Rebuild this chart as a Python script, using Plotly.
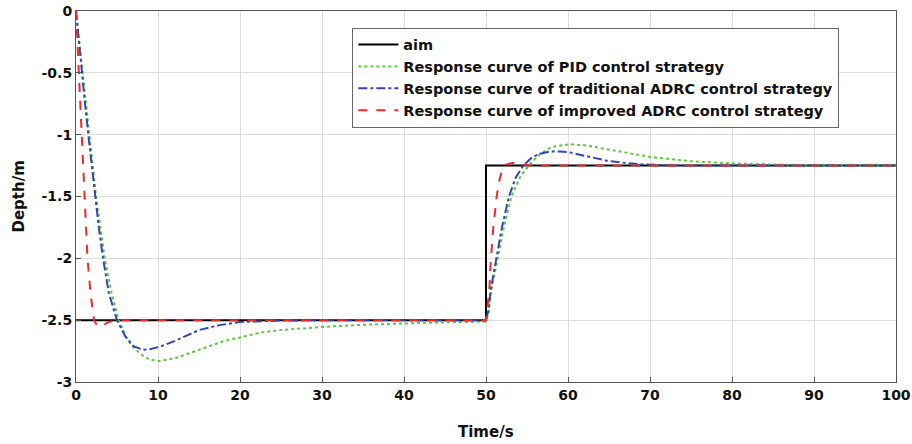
import plotly.graph_objects as go

# ---- data ----
aim_t = [0, 50, 50, 100]
aim_y = [-2.5, -2.5, -1.25, -1.25]

pid_t = [0, 0.4, 0.8, 1.2, 1.6, 2.0, 2.45, 3.0, 3.5, 4.3, 5.2, 6.3, 7.0, 8.0, 9.0, 10.2, 12, 15, 18, 20,
         22.5, 25, 30, 35, 40, 45, 50,
         50.3, 50.65, 51.0, 51.5, 52.2, 53.1, 54.1, 55.2, 56.5, 58, 60.2, 62, 65, 70, 75, 80, 85, 90, 100]
pid_y = [0, -0.25, -0.5, -0.75, -1.0, -1.25, -1.5, -1.76, -2.0, -2.27, -2.5, -2.66, -2.72, -2.78, -2.82, -2.83,
         -2.81, -2.74, -2.67, -2.64, -2.60, -2.58, -2.555, -2.537, -2.526, -2.517, -2.512,
         -2.45, -2.256, -2.14, -2.0, -1.744, -1.5, -1.35, -1.25, -1.16, -1.10, -1.077, -1.085, -1.12, -1.18,
         -1.215, -1.232, -1.242, -1.247, -1.25]

adrc_t = [0, 0.35, 0.73, 1.1, 1.5, 1.9, 2.3, 2.8, 3.3, 4.0, 5.0, 6.0, 7.0, 8.2, 9.0, 10.2, 12, 15, 17.5, 20,
          25, 30, 50,
          50.3, 50.57, 51.0, 51.3, 51.96, 52.8, 53.6, 54.55, 55.5, 56.5, 57.8, 59, 60, 62, 64.7, 66.5, 68.8,
          72, 75, 100]
adrc_y = [0, -0.25, -0.5, -0.75, -1.0, -1.25, -1.5, -1.76, -2.0, -2.28, -2.5, -2.63, -2.71, -2.74, -2.735,
          -2.715, -2.67, -2.58, -2.54, -2.515, -2.503, -2.5, -2.5,
          -2.42, -2.256, -2.1, -2.0, -1.744, -1.5, -1.35, -1.25, -1.19, -1.155, -1.136, -1.137, -1.14, -1.17,
          -1.21, -1.225, -1.24, -1.247, -1.25, -1.25]

iadrc_t = [0, 0.35, 0.7, 1.0, 1.4, 1.8, 2.2, 2.6, 2.9, 3.3, 3.8, 4.5, 5.5, 10, 50,
           50.2, 50.4, 50.6, 50.9, 51.3, 51.6, 51.96, 52.5, 53.3, 54, 55, 60, 100]
iadrc_y = [0, -0.5, -1.0, -1.5, -2.0, -2.3, -2.5, -2.545, -2.553, -2.545, -2.52, -2.505, -2.5, -2.5, -2.5,
           -2.38, -2.256, -2.0, -1.744, -1.5, -1.38, -1.286, -1.24, -1.227, -1.235, -1.248, -1.25, -1.25]

x_ticks = [0, 10, 20, 30, 40, 50, 60, 70, 80, 90, 100]
x_ticklabels = ["0", "10", "20", "30", "40", "50", "60", "70", "80", "90", "100"]
y_ticks = [0, -0.5, -1, -1.5, -2, -2.5, -3]
y_ticklabels = ["0", "-0.5", "-1", "-1.5", "-2", "-2.5", "-3"]

names = ["aim",
         "Response curve of PID control strategy",
         "Response curve of traditional ADRC control strategy",
         "Response curve of improved ADRC control strategy"]
x_title = "Time/s"
y_title = "Depth/m"

FONT = "DejaVu Sans, Liberation Sans, Arial, sans-serif"

fig = go.Figure()
fig.add_trace(go.Scatter(x=aim_t, y=aim_y, mode="lines", name=names[0],
                         line=dict(color="#000000", width=2)))
fig.add_trace(go.Scatter(x=pid_t, y=pid_y, mode="lines", name=names[1],
                         line=dict(color="#5cc83c", width=2, dash="dot")))
fig.add_trace(go.Scatter(x=adrc_t, y=adrc_y, mode="lines", name=names[2],
                         line=dict(color="#3446b0", width=2, dash="dashdot")))
fig.add_trace(go.Scatter(x=iadrc_t, y=iadrc_y, mode="lines", name=names[3],
                         line=dict(color="#ee2a2a", width=2, dash="dash")))

axis_common = dict(showline=True, mirror=True, linecolor="#555555", linewidth=1,
                   ticks="inside", ticklen=5, tickcolor="#555555", automargin=False,
                   ticklabeloverflow="allow",
                   showgrid=True, gridcolor="#dddddd", gridwidth=1, zeroline=False,
                   tickfont=dict(family=FONT, size=14, color="#111111", weight="bold"))

fig.update_layout(
    width=912, height=444,
    margin=dict(l=76, r=16, t=11, b=62),
    paper_bgcolor="white", plot_bgcolor="white",
    font=dict(family=FONT, size=14, color="#111111", weight="bold"),
    xaxis=dict(range=[0, 100], tickvals=x_ticks, ticktext=x_ticklabels, **axis_common),
    yaxis=dict(range=[-3, 0], tickvals=y_ticks, ticktext=y_ticklabels, **axis_common),
    legend=dict(x=0.337, y=0.955, xanchor="left", yanchor="top",
                bgcolor="white", bordercolor="#666666", borderwidth=1,
                font=dict(family=FONT, size=14.5, color="#111111", weight="bold"),
                itemwidth=40, tracegroupgap=0),
    showlegend=True,
    annotations=[
        dict(text=x_title, xref="paper", yref="paper", x=0.5, y=-0.135,
             xanchor="center", yanchor="middle", showarrow=False,
             font=dict(family=FONT, size=15, color="#111111", weight="bold")),
        dict(text=y_title, xref="paper", yref="paper", x=-0.0707, y=0.5, textangle=-90,
             xanchor="center", yanchor="middle", showarrow=False,
             font=dict(family=FONT, size=15, color="#111111", weight="bold")),
    ],
)

# remove the default page margin so the figure sits at the window's top-left corner
fig.write_html("out.html", config={"displayModeBar": False},
               post_script="document.body.style.margin='0';document.body.style.padding='0';")
